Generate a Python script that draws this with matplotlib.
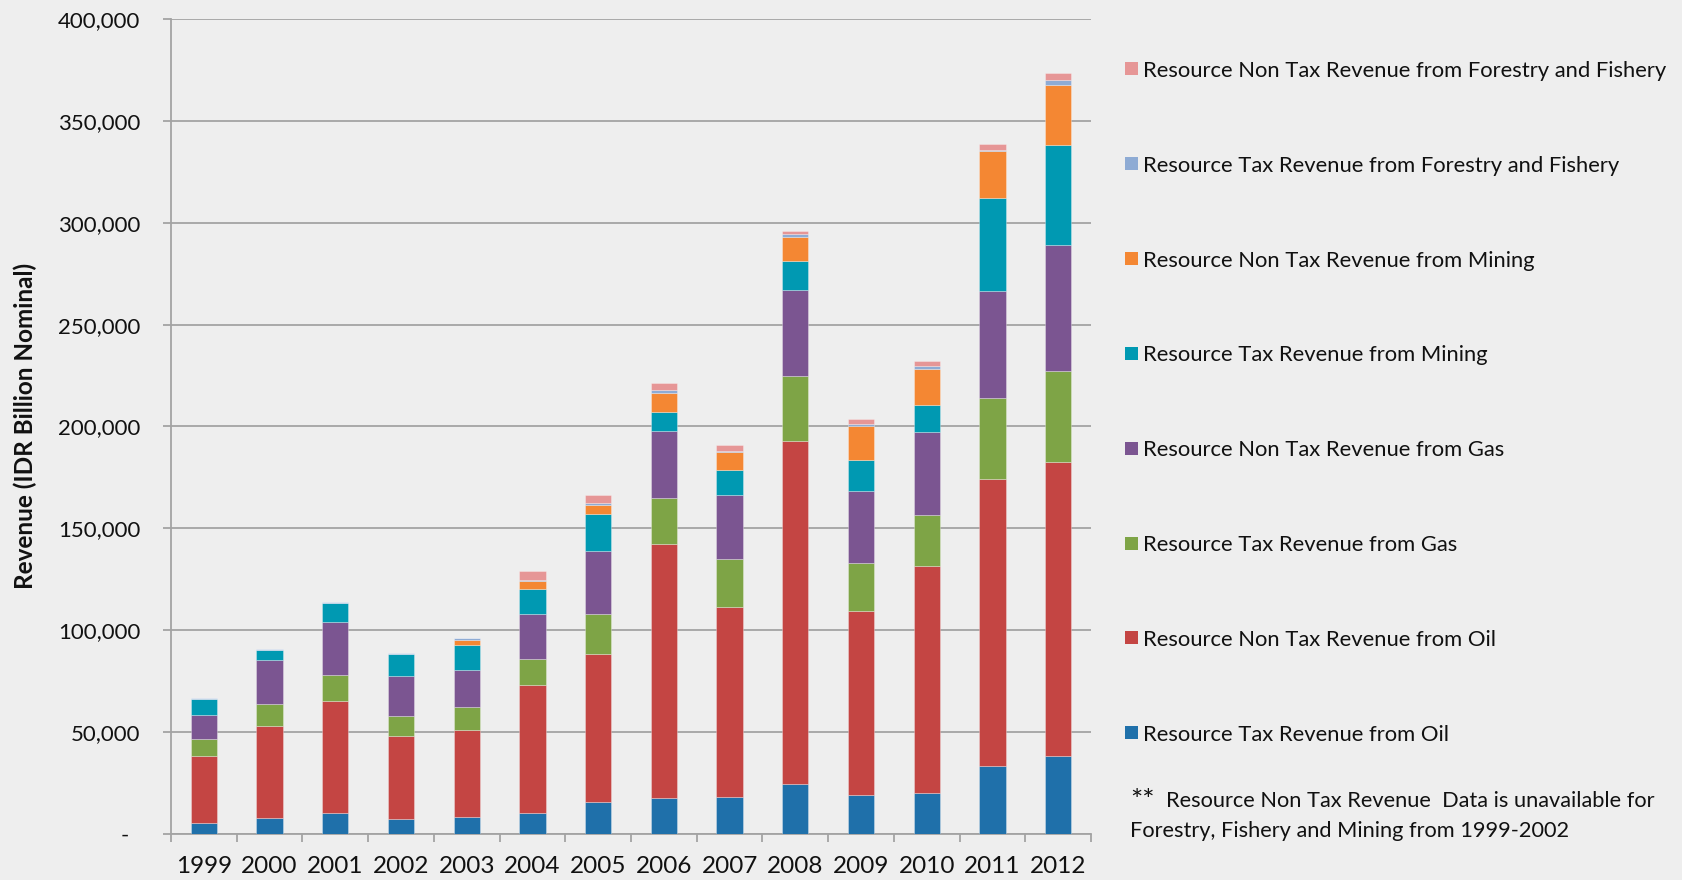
import matplotlib
matplotlib.use("Agg")
import matplotlib.pyplot as plt
from matplotlib.patches import Rectangle
import numpy as np

plt.rcParams['font.family'] = ['Lato', 'DejaVu Sans']

# Natural resource revenue, IDR billion (nominal)
years = [1999, 2000, 2001, 2002, 2003, 2004, 2005, 2006, 2007, 2008, 2009, 2010, 2011, 2012]

oil_tax = [5100, 7750, 10200, 7250, 8100, 9900, 15240, 17200, 17900, 24200, 19000, 20000, 33100, 38000]
oil_nontax = [33000, 45050, 54700, 40650, 42800, 62900, 72760, 125100, 93600, 168800, 90100, 111600, 141300, 144600]
gas_tax = [8100, 11000, 12800, 10000, 11100, 13000, 20000, 22400, 23400, 31600, 23700, 24800, 39400, 44900]
gas_nontax = [12200, 21400, 26100, 19400, 18300, 22100, 30800, 32900, 31300, 42500, 35600, 40700, 52800, 61850]
mining_tax = [7900, 5050, 9500, 10800, 12100, 12400, 18100, 9700, 12500, 14100, 15100, 13400, 45800, 48800]
mining_nontax = [0, 0, 0, 0, 2900, 3600, 4700, 9300, 8600, 12000, 16500, 18000, 23000, 29650]
forestry_tax = [300, 300, 300, 650, 1000, 800, 800, 1200, 900, 1200, 1000, 1000, 500, 2600]
forestry_nontax = [0, 0, 0, 0, 0, 4300, 3800, 3400, 2900, 1900, 2500, 2500, 2750, 3500]

# stacking order, bottom to top
series = [
    ("Resource Tax Revenue from Oil", oil_tax, "#1f70aa"),
    ("Resource Non Tax Revenue from Oil", oil_nontax, "#c44543"),
    ("Resource Tax Revenue from Gas", gas_tax, "#7ea446"),
    ("Resource Non Tax Revenue from Gas", gas_nontax, "#7b5591"),
    ("Resource Tax Revenue from Mining", mining_tax, "#0099b2"),
    ("Resource Non Tax Revenue from Mining", mining_nontax, "#f48733"),
    ("Resource Tax Revenue from Forestry and Fishery", forestry_tax, "#8eabd4"),
    ("Resource Non Tax Revenue from Forestry and Fishery", forestry_nontax, "#e69696"),
]

note = ("**", "Resource Non Tax Revenue  Data is unavailable for",
        "Forestry, Fishery and Mining from 1999-2002")

BG = "#eeeeee"
GRID = "#a3a3a3"
W, H = 1682, 880

fig = plt.figure(figsize=(W / 100, H / 100), dpi=100, facecolor=BG)
ax = fig.add_axes([171 / W, 1 - 833.5 / H, (1091 - 171) / W, (833.5 - 19.5) / H])
ax.set_facecolor(BG)

x = np.arange(len(years))
bottom = np.zeros(len(years))
for label, vals, color in series:
    vals = np.asarray(vals, dtype=float)
    ax.bar(x, vals, width=0.4, bottom=bottom, color=color,
           edgecolor=(1, 1, 1, 0.35), linewidth=0.6, label=label, zorder=3)
    bottom += vals

ax.set_xlim(-0.5, len(years) - 0.5)
ax.set_ylim(0, 400000)
yt = np.arange(0, 400001, 50000)
ax.set_yticks(yt)
ax.set_yticklabels(["-  "] + [f"{v:,}" for v in yt[1:]])
ax.yaxis.grid(True, color=GRID, linewidth=1.3)
ax.set_axisbelow(True)

for s in ("top", "right"):
    ax.spines[s].set_visible(False)
for s in ("left", "bottom"):
    ax.spines[s].set_color(GRID)
    ax.spines[s].set_linewidth(1.3)

ax.set_xticks(np.arange(-0.5, len(years)), minor=False)
ax.set_xticks(x, minor=True)
ax.set_xticklabels([], minor=False)
ax.set_xticklabels([str(y) for y in years], minor=True)
ax.tick_params(axis='x', which='major', length=6, width=1.3, color=GRID, labelbottom=False)
ax.tick_params(axis='x', which='minor', length=0, pad=16, labelsize=17.5, labelcolor="#111111")
ax.tick_params(axis='y', length=6, width=1.3, color=GRID, pad=16, labelsize=16, labelcolor="#111111")

fig.text(25 / W, 1 - 426 / H, "Revenue (IDR Billion Nominal)", rotation=90,
         ha='center', va='center', fontsize=17.5, fontweight='bold', color="#111111")

# legend, top entry first
y0, dy = 69, 94.8
for i, (label, vals, color) in enumerate(reversed(series)):
    yc = y0 + i * dy
    fig.add_artist(Rectangle((1125 / W, 1 - (yc + 6.5) / H), 13 / W, 13 / H,
                             transform=fig.transFigure, facecolor=color, edgecolor='none'))
    fig.text(1143 / W, 1 - yc / H, label, ha='left', va='center_baseline',
             fontsize=15.8, color="#111111")

fig.text(1130 / W, 1 - 799 / H, note[0], ha='left', va='center_baseline',
         fontsize=21, color="#111111")
fig.text(1166 / W, 1 - 799 / H, note[1], ha='left', va='center_baseline',
         fontsize=15.7, color="#111111")
fig.text(1130 / W, 1 - 829 / H, note[2], ha='left', va='center_baseline',
         fontsize=15.7, color="#111111")

fig.savefig("out.png", dpi=100, facecolor=BG)
